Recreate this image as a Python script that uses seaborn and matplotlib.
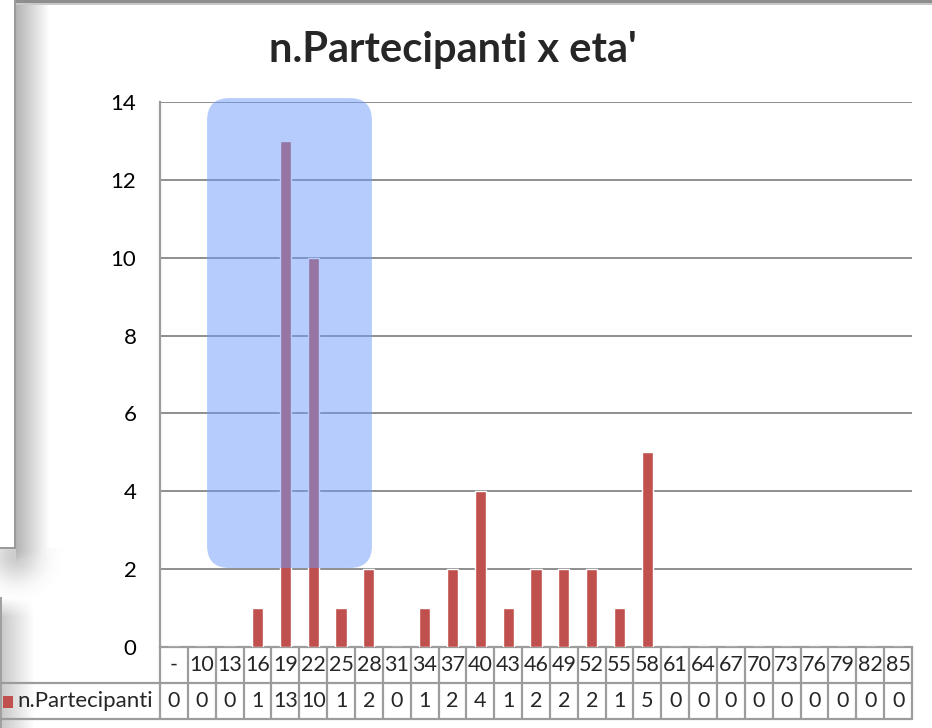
import numpy as np
import pandas as pd
import matplotlib.pyplot as plt
import seaborn as sns
from matplotlib.patches import FancyBboxPatch, Rectangle
from matplotlib.lines import Line2D

# Data
ages = ["-", "10", "13", "16", "19", "22", "25", "28", "31", "34", "37", "40", "43", "46",
        "49", "52", "55", "58", "61", "64", "67", "70", "73", "76", "79", "82", "85"]
participants = [0, 0, 0, 1, 13, 10, 1, 2, 0, 1, 2, 4, 1, 2,
                2, 2, 1, 5, 0, 0, 0, 0, 0, 0, 0, 0, 0]
series_name = "n.Partecipanti"
title = "n.Partecipanti x eta'"
y_ticks = list(range(0, 15, 2))

RED = "#C0504D"
GRID = "#868686"
TABLE = "#9C9C9C"
HIGHLIGHT = (110 / 255, 155 / 255, 250 / 255)

sns.set_theme(style="white")
plt.rcParams["font.family"] = ["Lato", "DejaVu Sans"]

df = pd.DataFrame({"age": ages, "n": participants})

W, H = 932, 728
fig = plt.figure(figsize=(W / 100, H / 100), dpi=100)
fig.patch.set_facecolor("white")

# background: window edges / shadows of the screenshot (left strip only)
px, py = np.meshgrid(np.arange(70) + 0.5, np.arange(H) + 0.5)
side = 0.30 * (1 - np.clip((px - 16) / 34, 0, 1))          # darkness right of upper window
side = np.where(px < 16, 0.0, side)
fade = np.where(py < 548, 1.0, np.exp(-((py - 548) / 22) ** 2))
dark = side * fade
d = np.hypot(px - 16, py - 556)
dark = np.maximum(dark, 0.20 * np.exp(-(d / 24) ** 2) * (py >= 548))
ramp = np.clip((py - 597) / 20, 0, 1)
dark = np.maximum(dark, 0.22 * (1 - np.clip((px - 1) / 34, 0, 1)) * ramp)
shade = 1 - dark

bg = fig.add_axes([0, 0, 1, 1], zorder=-5)
bg.set_xlim(0, W)
bg.set_ylim(H, 0)
bg.axis("off")
bg.imshow(shade, cmap="gray", vmin=0, vmax=1, extent=(0, 70, H, 0), aspect="auto")
bg.add_patch(Rectangle((15, 0), W - 15, 3, color="#8E8E8E", lw=0))
bg.add_patch(Rectangle((15, 3), W - 15, 2, color="#C8C8C8", lw=0))
bg.add_patch(Rectangle((14, 0), 2, 549, color="#9A9A9A", lw=0))
bg.add_patch(Rectangle((0, 547), 16, 2, color="#9A9A9A", lw=0))
bg.add_patch(Rectangle((0, 597), 1.5, H - 597, color="#A0A0A0", lw=0))

ax = fig.add_axes([160 / W, 1 - 647 / H, 752 / W, 545 / H], zorder=1)
ax.patch.set_alpha(0)
sns.barplot(data=df, x="age", y="n", color=RED, saturation=1, width=0.4, ax=ax, zorder=3)
ax.set_xlim(-0.5, len(ages) - 0.5)
ax.set_ylim(0, 14)
ax.set_yticks(y_ticks)
ax.set_yticklabels([str(t) for t in y_ticks], fontsize=16, color="black")
ax.tick_params(axis="y", length=0, pad=17)
ax.set_xticks([])
ax.set_xlabel("")
ax.set_ylabel("")
ax.yaxis.grid(True, color=GRID, lw=1.3)
ax.set_axisbelow(True)
for s in ["top", "right"]:
    ax.spines[s].set_visible(False)
for s in ["left", "bottom"]:
    ax.spines[s].set_color(TABLE)
    ax.spines[s].set_linewidth(1.6)

fig.text(0.486, 1 - 50 / H, title, ha="center", va="center", fontsize=30, fontweight="bold")

# highlight box
box = FancyBboxPatch((1.19, 2.03), 5.92, 12.07, boxstyle="round,pad=0,rounding_size=0.8",
                     mutation_aspect=0.716, fc=HIGHLIGHT, alpha=0.5, ec="none",
                     zorder=6, clip_on=False, transform=ax.transData)
ax.add_patch(box)

# data table below the axis
tr = ax.get_xaxis_transform()
r1, r2 = -36 / 545, -72 / 545
n = len(ages)
for k in range(n + 1):
    ax.add_line(Line2D([k - 0.5, k - 0.5], [0, r2], transform=tr, color=TABLE, lw=1.6, clip_on=False))
for yy in (r1, r2):
    ax.add_line(Line2D([-0.5, n - 0.5], [yy, yy], transform=tr, color=TABLE, lw=1.6, clip_on=False))
    fy = 1 - (647 - yy * 545) / H
    fig.add_artist(Line2D([0, 160 / W], [fy, fy], color=TABLE, lw=1.6))
for i, (a, v) in enumerate(zip(ages, participants)):
    ax.text(i, r1 / 2, a, transform=tr, ha="center", va="center", fontsize=15.5)
    ax.text(i, (r1 + r2) / 2, str(v), transform=tr, ha="center", va="center", fontsize=15.5)

fig.add_artist(Rectangle((3 / W, 1 - 708 / H), 10 / W, 12 / H, color=RED, lw=0))
fig.text(17 / W, 1 - 701 / H, series_name, ha="left", va="center", fontsize=16)

fig.savefig("out.png", dpi=100)
